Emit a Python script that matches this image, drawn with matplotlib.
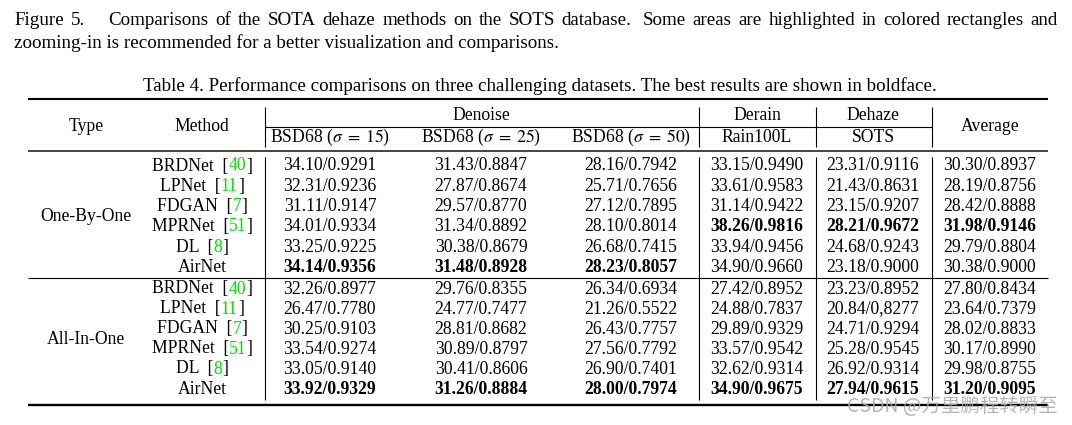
import matplotlib
matplotlib.use('Agg')
import matplotlib.pyplot as plt

plt.rcParams['font.family'] = ['Liberation Serif', 'DejaVu Serif']
plt.rcParams['mathtext.fontset'] = 'stix'

# ---- data ----
caption_line1 = ('Figure 5.', 'Comparisons of the SOTA dehaze methods on the SOTS database.',
                 'Some areas are highlighted in colored rectangles and')
caption_line2 = 'zooming-in is recommended for a better visualization and comparisons.'
table_title = ('Table 4. Performance comparisons on three challenging datasets. '
               'The best results are shown in boldface.')

groups = ['One-By-One', 'All-In-One']
method_names = ['BRDNet', 'LPNet', 'FDGAN', 'MPRNet', 'DL', 'AirNet']
method_refs = ['40', '11', '7', '51', '8', '']

task_headers = ['Denoise', 'Derain', 'Dehaze']
dataset_headers = [r'BSD68 ($\sigma\;=\;15$)', r'BSD68 ($\sigma\;=\;25$)', r'BSD68 ($\sigma\;=\;50$)',
                   'Rain100L', 'SOTS']

bsd15 = [['34.10/0.9291', '32.31/0.9236', '31.11/0.9147', '34.01/0.9334', '33.25/0.9225', '34.14/0.9356'],
         ['32.26/0.8977', '26.47/0.7780', '30.25/0.9103', '33.54/0.9274', '33.05/0.9140', '33.92/0.9329']]
bsd25 = [['31.43/0.8847', '27.87/0.8674', '29.57/0.8770', '31.34/0.8892', '30.38/0.8679', '31.48/0.8928'],
         ['29.76/0.8355', '24.77/0.7477', '28.81/0.8682', '30.89/0.8797', '30.41/0.8606', '31.26/0.8884']]
bsd50 = [['28.16/0.7942', '25.71/0.7656', '27.12/0.7895', '28.10/0.8014', '26.68/0.7415', '28.23/0.8057'],
         ['26.34/0.6934', '21.26/0.5522', '26.43/0.7757', '27.56/0.7792', '26.90/0.7401', '28.00/0.7974']]
rain100l = [['33.15/0.9490', '33.61/0.9583', '31.14/0.9422', '38.26/0.9816', '33.94/0.9456', '34.90/0.9660'],
            ['27.42/0.8952', '24.88/0.7837', '29.89/0.9329', '33.57/0.9542', '32.62/0.9314', '34.90/0.9675']]
sots = [['23.31/0.9116', '21.43/0.8631', '23.15/0.9207', '28.21/0.9672', '24.68/0.9243', '23.18/0.9000'],
        ['23.23/0.8952', '20.84/0,8277', '24.71/0.9294', '25.28/0.9545', '26.92/0.9314', '27.94/0.9615']]
average = [['30.30/0.8937', '28.19/0.8756', '28.42/0.8888', '31.98/0.9146', '29.79/0.8804', '30.38/0.9000'],
           ['27.80/0.8434', '23.64/0.7379', '28.02/0.8833', '30.17/0.8990', '29.98/0.8755', '31.20/0.9095']]
columns = [bsd15, bsd25, bsd50, rain100l, sots, average]

# best result per group and column (row index)
best_rows = [[5, 5, 5, 3, 3, 3],
             [5, 5, 5, 5, 5, 5]]

watermark = 'CSDN @万里鹏程转瞬至'

# ---- layout (pixel coords) ----
W, H = 1072, 425
fig = plt.figure(figsize=(W / 100, H / 100), dpi=100)
ax = fig.add_axes([0, 0, 1, 1])
ax.set_xlim(0, W)
ax.set_ylim(H, 0)
ax.axis('off')
renderer = fig.canvas.get_renderer()

FS = 12.7
green = '#00dd00'

def text_width(s, **kw):
    t = ax.text(0, 0, s, **kw)
    w = t.get_window_extent(renderer).width
    t.remove()
    return w

# caption, first line justified
cap_fs = 13.7
words = ' '.join(caption_line1).split(' ')
widths = [text_width(w, fontsize=cap_fs) for w in words]
weights = []
for w in words[:-1]:
    if w == '5.':
        weights.append(3.6)
    elif w == 'database.':
        weights.append(1.7)
    else:
        weights.append(1.0)
left, right = 14, 1058
gap = (right - left - sum(widths)) / sum(weights)
x = left
for i, w in enumerate(words):
    ax.text(x, 20, w, fontsize=cap_fs, va='center', ha='left')
    if i < len(weights):
        x += widths[i] + gap * weights[i]
ax.text(left, 43, caption_line2, fontsize=cap_fs, va='center', ha='left')

ax.text(540, 86, table_title, fontsize=13.7, va='center', ha='center')

# rules
x0, x1 = 28, 1048
ax.plot([x0, x1], [99, 99], color='black', lw=1.5, solid_capstyle='butt')
ax.plot([x0, x1], [151, 151], color='#444444', lw=1.4, solid_capstyle='butt')
ax.plot([x0, x1], [278, 278], color='black', lw=0.8, solid_capstyle='butt')
ax.plot([x0, x1], [405, 405], color='black', lw=1.7, solid_capstyle='butt')
ax.plot([265, 932], [127, 127], color='black', lw=0.8, solid_capstyle='butt')

vlines = [265, 699, 816, 932]
for vx in vlines:
    ax.plot([vx, vx], [107, 147], color='black', lw=0.8, solid_capstyle='butt')
    ax.plot([vx, vx], [157, 400], color='black', lw=0.8, solid_capstyle='butt')

# header
col_x = [330, 481, 631, 757, 873, 990]
type_x, method_x = 86, 202
ax.text(type_x, 126, 'Type', fontsize=FS, ha='center', va='center')
ax.text(method_x, 126, 'Method', fontsize=FS, ha='center', va='center')
ax.text(col_x[5], 126, 'Average', fontsize=FS, ha='center', va='center')
task_x = [col_x[1], col_x[3], col_x[4]]
for tx, name in zip(task_x, task_headers):
    ax.text(tx, 115, name, fontsize=FS, ha='center', va='center')
for cx, name in zip(col_x[:5], dataset_headers):
    ax.text(cx, 137, name, fontsize=FS, ha='center', va='center')

# body
row_y = [[166, 186, 206, 226, 247, 267],
         [289, 309, 329, 349, 369, 389]]

for g, gname in enumerate(groups):
    ys = row_y[g]
    ax.text(type_x, (ys[2] + ys[3]) / 2, gname, fontsize=FS, ha='center', va='center')
    for r, (name, ref) in enumerate(zip(method_names, method_refs)):
        if ref:
            pieces = [(name + '  [', 'black'), (ref, green), (']', 'black')]
        else:
            pieces = [(name, 'black')]
        total = sum(text_width(p, fontsize=FS) for p, _ in pieces)
        px = method_x - total / 2
        for p, c in pieces:
            ax.text(px, ys[r], p, fontsize=FS, color=c, ha='left', va='center')
            px += text_width(p, fontsize=FS)
        for c, col in enumerate(columns):
            bold = best_rows[g][c] == r
            ax.text(col_x[c], ys[r], col[g][r], fontsize=FS, ha='center', va='center',
                    fontweight='bold' if bold else 'normal')

ax.text(1058, 407, watermark, fontsize=14, color='#aaaaaa', alpha=0.85,
        ha='right', va='center', family=['Noto Sans CJK SC', 'DejaVu Sans'])

fig.savefig('out.png', dpi=100)
